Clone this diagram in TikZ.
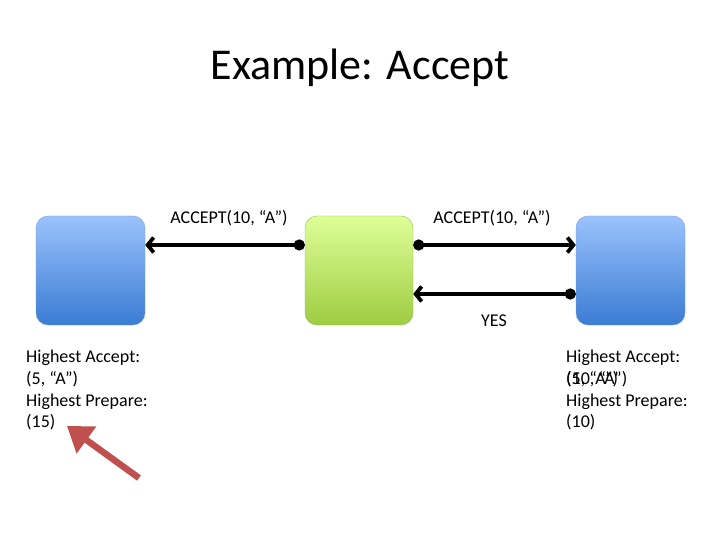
\documentclass[tikz,border=0pt]{standalone}
\usepackage{fontspec}
\setmainfont{Carlito}
\usetikzlibrary{arrows.meta,positioning,calc}
\definecolor{bluetop}{RGB}{155,194,252}
\definecolor{bluebot}{RGB}{58,124,212}
\definecolor{blueline}{RGB}{120,160,220}
\definecolor{greentop}{RGB}{222,255,152}
\definecolor{greenbot}{RGB}{158,204,66}
\definecolor{greenline}{RGB}{150,190,80}
\definecolor{pointer}{RGB}{192,80,77}

\begin{document}
\begin{tikzpicture}[
  x=1pt,y=-1pt,
  font=\fontsize{18}{21.7}\selectfont,
  server/.style={rectangle,rounded corners=12pt,draw=blueline,top color=bluetop,bottom color=bluebot,minimum width=109pt,minimum height=109pt},
  leader/.style={rectangle,rounded corners=12pt,draw=greenline,top color=greentop,bottom color=greenbot,minimum width=108pt,minimum height=109pt},
  msg/.style={{Circle[length=11pt]}-{Straight Barb[length=6pt,width=15pt]},line width=3.8pt,black},
  info/.style={anchor=north west,align=left,inner sep=0pt},
  hint/.style={-{Triangle[length=24pt,width=32pt]},line width=6.5pt,draw=pointer}
]
\useasboundingbox (0,0) rectangle (720,540);
\node[font=\fontsize{44}{52}\selectfont] (title) at (360,68) {Example: Accept};
\node[server] (left) at (90.5,270.5) {};
\node[leader] (mid) at (359,270.5) {};
\node[server] (right) at (630.5,270.5) {};
\draw[msg] ([yshift=25.5pt]mid.west) -- ([yshift=25.5pt]left.east);
\draw[msg] ([yshift=25.5pt]mid.east) -- ([yshift=25.5pt]right.west);
\draw[msg] ([yshift=-23.5pt]right.west) -- ([yshift=-23.5pt]mid.east);
\node (acc1) at (229,218) {ACCEPT(10, “A”)};
\node (acc2) at (492,218) {ACCEPT(10, “A”)};
\node (yes) at (494,321) {YES};
\node[info] (leftinfo) at (26,350) {Highest Accept:\\(5, “A”)\\Highest Prepare:\\(15)};
\node[info] (rightinfo) at (566,350) {Highest Accept:\\\rlap{(5, “A”)}(10, “A”)\\Highest Prepare:\\(10)};
% pointer to the left acceptor
\coordinate (hintfrom) at (139,478);
\coordinate (hintto) at (67,426);
\draw[hint] (hintfrom) -- (hintto);
\end{tikzpicture}
\end{document}
